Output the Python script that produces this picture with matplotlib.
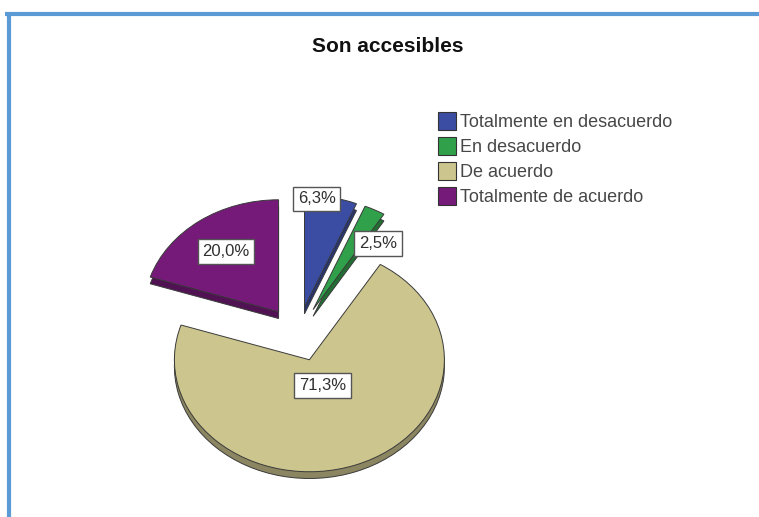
import numpy as np
import matplotlib
matplotlib.use("Agg")
import matplotlib.pyplot as plt
from matplotlib.patches import Patch
from matplotlib.lines import Line2D
from matplotlib.colors import to_rgb

# Survey answers for "Son accesibles" (percent of respondents)
categories = ["Totalmente en desacuerdo", "En desacuerdo", "De acuerdo", "Totalmente de acuerdo"]
percentages = [6.3, 2.5, 71.3, 20.0]
title = "Son accesibles"

colors = ["#3B4DA3", "#30A04A", "#CCC58E", "#751A78"]
side_colors = [tuple(c * 0.68 for c in to_rgb(col)) for col in colors]

# placement of each percentage box: radial fraction and angular nudge (deg)
label_r = [0.97, 0.76, 0.25, 0.665]
label_shift = [6, -12, 3, 0]

plt.rcParams["font.family"] = ["Liberation Sans", "DejaVu Sans"]

W, H = 759, 517
fig = plt.figure(figsize=(W / 100, H / 100), dpi=100)
fig.patch.set_facecolor("white")

# pie axes: stretched so the circle becomes a tilted ellipse
cx, cy, rx, ry, L = 298, 334, 135, 112, 1.6
ax = fig.add_axes([(cx - L * rx) / W, (H - (cy + L * ry)) / H,
                   2 * L * rx / W, 2 * L * ry / H])
explode = [0.245] * len(percentages)
depth = 0.06

# side (thickness) of the 3D pie
ax.pie(percentages, explode=explode, startangle=90, counterclock=False,
       colors=side_colors, center=(0, -depth), radius=1,
       wedgeprops=dict(edgecolor="#3a3a3a", linewidth=0.7))
# top face
wedges, _ = ax.pie(percentages, explode=explode, startangle=90, counterclock=False,
                   colors=colors, center=(0, 0), radius=1,
                   wedgeprops=dict(edgecolor="#3a3a3a", linewidth=0.7))
ax.set_aspect("auto")
ax.set_xlim(-L, L)
ax.set_ylim(-L, L)
ax.axis("off")

for w, v, r, sh in zip(wedges, percentages, label_r, label_shift):
    mid = np.deg2rad((w.theta1 + w.theta2) / 2 + sh)
    x0, y0 = w.center
    ax.text(x0 + r * np.cos(mid), y0 + r * np.sin(mid),
            f"{v:.1f}%".replace(".", ","), ha="center", va="center",
            fontsize=12, color="#303030",
            bbox=dict(boxstyle="square,pad=0.28", facecolor="white",
                      edgecolor="#555555", linewidth=1.0))

fig.text(388 / W, 1 - 47 / H, title, ha="center", va="center",
         fontsize=15, fontweight="bold", color="#111111")

handles = [Patch(facecolor=c, edgecolor="#333333", linewidth=0.8) for c in colors]
fig.legend(handles, categories, loc="upper left",
           bbox_to_anchor=(438 / W, 1 - 112 / H), frameon=False,
           fontsize=13, labelcolor="#474747", handlelength=1.0, handleheight=1.15,
           handletextpad=0.2, labelspacing=0.33, borderaxespad=0, borderpad=0)

# blue frame (top and left rules)
frame = fig.add_axes([0, 0, 1, 1], facecolor="none")
frame.set_xlim(0, W)
frame.set_ylim(H, 0)
frame.axis("off")
frame.add_line(Line2D([5, W], [14, 14], color="#5B9BD5", linewidth=3, solid_capstyle="butt"))
frame.add_line(Line2D([9, 9], [12.5, H], color="#5B9BD5", linewidth=3, solid_capstyle="butt"))

fig.savefig("out.png", dpi=100, facecolor="white")
